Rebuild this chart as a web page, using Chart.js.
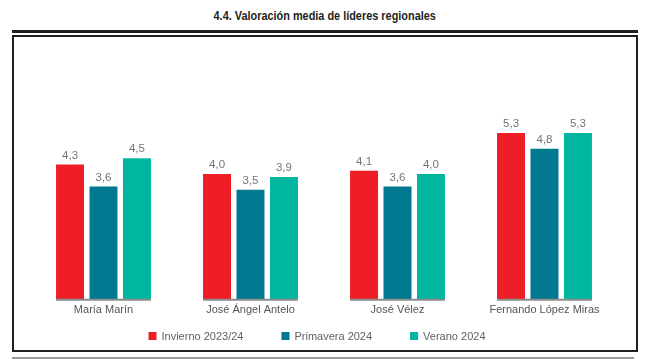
<!DOCTYPE html>
<html>
<head>
<meta charset="utf-8">
<script src="https://cdn.jsdelivr.net/npm/chart.js@4"></script>
<style>
  body { margin: 0; background: #fff; width: 650px; height: 361px; overflow: hidden; position: relative; }
  #title { position: absolute; left: 0; top: 6px; width: 650px; text-align: center; }
  #title span { display: inline-block; transform-origin: center; white-space: nowrap;
           font: bold 13.5px 'Liberation Sans', Arial, sans-serif; color: #231f20; }
  #topline { position: absolute; left: 12px; top: 30px; width: 626px; height: 3px; background: #1e1e1e; }
  #box { position: absolute; left: 12px; top: 35px; width: 622px; height: 313px; border: 2px solid #1e1e1e; }
  #bottomline { position: absolute; left: 12px; top: 357px; width: 622px; height: 2px; background: #9a9a9a; }
  canvas { display: block; }
</style>
</head>
<body>
<div id="title"><span id="titleText">4.4. Valoración media de líderes regionales</span></div>
<div id="topline"></div>
<div id="box"><canvas id="chart" width="622" height="313"></canvas></div>
<div id="bottomline"></div>

<script>
// categories (leaders) and the three survey waves
var leaders = ['María Marín', 'José Ángel Antelo', 'José Vélez', 'Fernando López Miras'];
var waves = ['Invierno 2023/24', 'Primavera 2024', 'Verano 2024'];

var invierno = [4.3, 4.0, 4.1, 5.3];
var primavera = [3.6, 3.5, 3.6, 4.8];
var verano = [4.5, 3.9, 4.0, 5.3];

var colors = ['#ee1d26', '#00788f', '#00b6a0'];

var FONT = "'Liberation Sans', Arial, sans-serif";

// the title is a condensed face in the original: squeeze it to the same width
var t = document.getElementById('titleText');
t.style.transform = 'scaleX(' + (222 / t.offsetWidth) + ')';

// grey line under each group + value labels over the bars
var barExtras = {
    id: 'barExtras',
    afterDatasetsDraw: function(chart) {
        var ctx = chart.ctx;
        var metas = chart.data.datasets.map(function(d, i) { return chart.getDatasetMeta(i); });

        // baseline under each group of bars
        ctx.save();
        ctx.strokeStyle = '#8c8c8c';
        ctx.lineWidth = 2;
        for (var j = 0; j < leaders.length; j++) {
            var first = metas[0].data[j];
            var last = metas[metas.length - 1].data[j];
            var x1 = first.x - first.width / 2;
            var x2 = last.x + last.width / 2;
            ctx.beginPath();
            ctx.moveTo(x1, first.base);
            ctx.lineTo(x2, first.base);
            ctx.stroke();
        }
        ctx.restore();

        // value labels
        ctx.save();
        ctx.font = '11.5px ' + FONT;
        ctx.fillStyle = '#747474';
        ctx.textAlign = 'center';
        ctx.textBaseline = 'middle';
        metas.forEach(function(meta, i) {
            meta.data.forEach(function(bar, j) {
                var v = chart.data.datasets[i].data[j];
                ctx.fillText(v.toFixed(1).replace('.', ','), bar.x, bar.y - 9);
            });
        });
        ctx.restore();
    },
    afterDraw: function(chart) {
        // legend, drawn from the dataset labels and colours
        var ctx = chart.ctx;
        var box = 8, gap = 5, spacing = 38;
        ctx.save();
        ctx.font = '11px ' + FONT;
        var items = chart.data.datasets.map(function(d) {
            return { text: d.label, color: d.backgroundColor, w: ctx.measureText(d.label).width };
        });
        var total = 0;
        items.forEach(function(it, i) {
            total += box + gap + it.w + (i < items.length - 1 ? spacing : 0);
        });
        var x = 303 - total / 2;
        var y = 299;
        ctx.textBaseline = 'middle';
        ctx.textAlign = 'left';
        items.forEach(function(it) {
            ctx.fillStyle = it.color;
            ctx.fillRect(x, y - box / 2, box, box);
            ctx.fillStyle = '#5f5f5f';
            ctx.fillText(it.text, x + box + gap, y + 0.5);
            x += box + gap + it.w + spacing;
        });
        ctx.restore();
    }
};

var ctx = document.getElementById('chart').getContext('2d');
var chart = new Chart(ctx, {
    type: 'bar',
    data: {
        labels: leaders,
        datasets: [
            { label: waves[0], data: invierno, backgroundColor: colors[0] },
            { label: waves[1], data: primavera, backgroundColor: colors[1] },
            { label: waves[2], data: verano, backgroundColor: colors[2] }
        ]
    },
    options: {
        responsive: false,
        animation: false,
        datasets: {
            bar: { categoryPercentage: 0.683, barPercentage: 0.836, borderWidth: 0 }
        },
        layout: {
            padding: { top: 74, left: 16, right: 18, bottom: 29 }
        },
        plugins: {
            legend: { display: false },
            tooltip: { enabled: false }
        },
        scales: {
            x: {
                grid: { display: false, drawTicks: false },
                border: { display: false },
                ticks: {
                    color: '#555555',
                    padding: 4,
                    font: { family: FONT, size: 11 }
                }
            },
            y: {
                display: false,
                min: 0,
                max: 6
            }
        }
    },
    plugins: [barExtras]
});
</script>
</body>
</html>
